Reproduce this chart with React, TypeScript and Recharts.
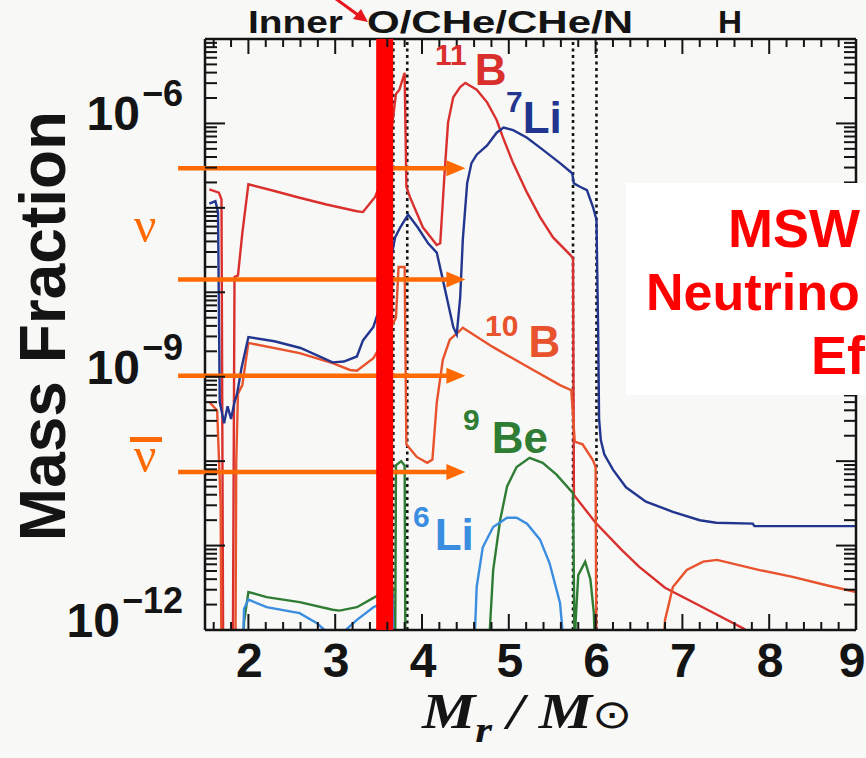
import React from 'react';
import { LineChart, Line, XAxis, YAxis, ReferenceLine } from 'recharts';

// mass coordinate M_r/M_sun vs log10(mass fraction)
const B11: [number, number][] = [
  [1.55, -6.78], [1.66, -6.82], [1.69, -6.9], [1.71, -12.5], [1.82, -12.5], [1.84, -7.82], [1.88, -7.8],
  [1.93, -7.3], [2.0, -6.72], [2.3, -6.8], [2.59, -6.88], [2.9, -6.96], [3.25, -7.04], [3.32, -7.05],
  [3.46, -6.87], [3.6, -6.5], [3.7, -5.65], [3.74, -5.6], [3.8, -5.4], [3.82, -6.75], [3.86, -6.87],
  [4.01, -7.23], [4.17, -7.44], [4.21, -7.42], [4.26, -6.59], [4.3, -5.99], [4.36, -5.69], [4.44, -5.57],
  [4.5, -5.52], [4.63, -5.6], [4.75, -5.75], [4.86, -5.96], [4.93, -6.16], [5.05, -6.47], [5.21, -6.82],
  [5.36, -7.11], [5.51, -7.35], [5.71, -7.56], [5.74, -7.6], [5.75, -10.4], [6.0, -10.73], [6.3, -11.05],
  [6.5, -11.25], [6.8, -11.5], [7.1, -11.66], [7.4, -11.82], [7.7, -11.98], [8.0, -12.2],
];

const B10: [number, number][] = [
  [1.55, -9.3], [1.64, -9.4], [1.68, -10.5], [1.69, -12.5], [1.85, -12.5], [1.86, -10.0], [1.88, -9.2],
  [1.93, -9.1], [2.0, -8.6], [2.59, -8.72], [2.97, -8.84], [3.17, -8.92], [3.25, -8.93], [3.44, -8.78],
  [3.6, -8.5], [3.7, -8.3], [3.73, -7.7], [3.8, -7.7], [3.82, -9.8], [3.94, -9.95], [4.06, -10.02],
  [4.12, -9.98], [4.17, -9.31], [4.24, -8.8], [4.32, -8.56], [4.44, -8.45], [4.47, -8.42], [4.82, -8.65],
  [5.21, -8.88], [5.59, -9.1], [5.72, -9.16], [5.76, -9.77], [5.85, -9.8], [5.97, -9.99], [6.0, -10.07],
  [6.01, -12.5], [6.76, -12.5], [6.8, -11.88], [6.89, -11.49], [7.05, -11.29], [7.24, -11.19],
  [7.4, -11.17], [7.89, -11.29], [8.27, -11.37], [8.66, -11.47], [9.0, -11.55],
];

const Li7: [number, number][] = [
  [1.55, -6.95], [1.62, -6.92], [1.65, -7.05], [1.67, -9.3], [1.72, -9.55], [1.76, -9.35], [1.8, -9.5],
  [1.84, -9.3], [1.87, -9.2], [1.92, -8.9], [2.0, -8.53], [2.3, -8.58], [2.6, -8.66], [2.97, -8.83],
  [3.1, -8.82], [3.25, -8.76], [3.32, -8.57], [3.44, -8.41], [3.57, -8.0], [3.69, -7.35], [3.75, -7.23],
  [3.84, -7.08], [3.95, -7.23], [4.07, -7.42], [4.17, -7.53], [4.24, -7.85], [4.3, -8.13], [4.36, -8.41],
  [4.4, -8.5], [4.44, -8.06], [4.47, -7.38], [4.52, -6.71], [4.57, -6.47], [4.63, -6.37], [4.75, -6.26],
  [4.86, -6.11], [4.94, -6.05], [5.05, -6.08], [5.21, -6.17], [5.39, -6.31], [5.59, -6.47], [5.73, -6.59],
  [5.75, -6.71], [5.82, -6.75], [5.9, -6.79], [5.97, -6.99], [6.01, -7.14], [6.03, -8.5], [6.04, -9.5],
  [6.06, -9.75], [6.1, -9.92], [6.2, -10.1], [6.35, -10.31], [6.58, -10.48], [6.89, -10.6], [7.2, -10.7],
  [7.39, -10.73], [7.81, -10.74], [7.83, -10.77], [9.0, -10.77],
];

const Be9: [number, number][] = [
  [1.93, -12.5], [1.95, -11.9], [2.0, -11.55], [2.21, -11.61], [2.59, -11.67], [2.97, -11.76],
  [3.05, -11.77], [3.25, -11.73], [3.44, -11.62], [3.55, -11.55], [3.66, -11.5], [3.68, -12.5],
  [3.69, -12.5], [3.7, -10.05], [3.76, -10.0], [3.8, -10.05], [3.81, -12.5], [4.77, -12.5], [4.78, -12.02],
  [4.82, -11.29], [4.9, -10.7], [4.98, -10.3], [5.09, -10.07], [5.24, -9.96], [5.39, -10.02],
  [5.55, -10.16], [5.74, -10.38], [5.76, -12.5], [5.77, -11.9], [5.8, -11.35], [5.88, -11.19],
  [5.94, -11.4], [5.98, -11.8], [6.0, -12.5],
];

const Li6: [number, number][] = [
  [1.93, -12.5], [1.95, -11.75], [2.0, -11.64], [2.21, -11.73], [2.59, -11.8], [2.79, -11.92],
  [2.9, -12.02], [3.0, -12.1], [3.1, -12.02], [3.25, -11.88], [3.44, -11.73], [3.6, -11.65],
  [3.66, -11.6], [3.68, -12.5], [4.6, -12.5], [4.61, -12.02], [4.63, -11.49], [4.7, -11.02],
  [4.82, -10.78], [4.98, -10.67], [5.09, -10.67], [5.21, -10.74], [5.36, -10.93], [5.47, -11.21],
  [5.59, -11.68], [5.62, -12.02], [5.64, -12.5],
];

const zoneBounds = [3.67, 3.83, 5.74, 6.01];
const massCut = 3.57;
const arrowLevels = [-6.53, -7.85, -8.99, -10.13];
const arrowFrom = 1.19;
const arrowTo = 4.5;

const xMajor = [2, 3, 4, 5, 6, 7, 8, 9];
const xTicks = Array.from({ length: 38 }, (_, i) => Math.round((1.6 + i * 0.2) * 10) / 10);
const yLabels = [-6, -9, -12];
const yTicks: number[] = [];
for (let n = -12; n < -5; n++) for (let k = 1; k <= 9; k++) yTicks.push(n + Math.log10(k));
yTicks.push(-5);

const pts = (a: [number, number][]) => a.map(([x, y]) => ({ x, y }));

const SANS = '"Liberation Sans", Arial, Helvetica, sans-serif';
const SERIF = '"Liberation Serif", "Times New Roman", serif';
const INK = '#141414';
const ORANGE = '#ff6a00';
const BG = '#f8f8f6';

const isMajorX = (v: number) => xMajor.some((m) => Math.abs(m - v) < 1e-6);
const isDecade = (v: number) => Math.abs(v - Math.round(v)) < 1e-6;

const BottomTick = (p: any) => {
  const { x, y, payload } = p;
  const major = isMajorX(payload.value);
  // the last label sits against the window edge
  const lx = payload.value === 9 ? x - 4 : x + 1;
  return (
    <g>
      <line x1={x} y1={y} x2={x} y2={y - (major ? 16 : 8)} stroke={INK} strokeWidth={2} />
      {major && (
        <text x={lx} y={y + 47} textAnchor="middle" fontFamily={SANS} fontWeight="bold" fontSize={48} fill={INK}>
          {payload.value}
        </text>
      )}
    </g>
  );
};

const TopTick = (p: any) => {
  const { x, y, payload } = p;
  const major = isMajorX(payload.value);
  return <line x1={x} y1={y} x2={x} y2={y + (major ? 15 : 8)} stroke={INK} strokeWidth={2} />;
};

const LeftTick = (p: any) => {
  const { x, y, payload } = p;
  const v = payload.value;
  const dec = isDecade(v);
  const lab = dec && yLabels.includes(Math.round(v));
  return (
    <g>
      <line x1={x} y1={y} x2={x + (dec ? 20 : 12)} y2={y} stroke={INK} strokeWidth={2} />
      {lab && (
        <text x={x - 22} y={y + 7} textAnchor="end" fontFamily={SANS} fontWeight="bold" fill={INK}>
          <tspan fontSize={48}>10</tspan>
          <tspan fontSize={36} dx={2} dy={-24}>{'\u2212' + Math.abs(Math.round(v))}</tspan>
        </text>
      )}
    </g>
  );
};

const RightTick = (p: any) => {
  const { x, y, payload } = p;
  const dec = isDecade(payload.value);
  return <line x1={x} y1={y} x2={x - (dec ? 20 : 12)} y2={y} stroke={INK} strokeWidth={2} />;
};

const ArrowShape = (p: any) => {
  const { x1, y1, x2 } = p;
  return (
    <g>
      <line x1={x1} y1={y1} x2={x2 - 14} y2={y1} stroke={ORANGE} strokeWidth={4.5} />
      <polygon points={`${x2},${y1} ${x2 - 19},${y1 - 8} ${x2 - 19},${y1 + 8}`} fill={ORANGE} />
    </g>
  );
};

const series = [
  { name: '11B', data: B11, color: '#d9302e' },
  { name: '10B', data: B10, color: '#e8522c' },
  { name: '7Li', data: Li7, color: '#22368f' },
  { name: '9Be', data: Be9, color: '#2f7d35' },
  { name: '6Li', data: Li6, color: '#3a8ddf' },
];

export default function App() {
  const axisLine = { stroke: INK, strokeWidth: 2.5 };
  return (
    <div style={{ position: 'absolute', left: 0, top: 0, width: 866, height: 758, background: BG, overflow: 'hidden' }}>
      <LineChart width={866} height={758} margin={{ top: 38, right: 9, bottom: 127, left: 204 }}>
        <XAxis xAxisId="b" type="number" dataKey="x" domain={[1.5, 9]} ticks={xTicks} interval={0}
          allowDataOverflow height={1} tickSize={0} tickMargin={0} tickLine={false} axisLine={axisLine}
          tick={<BottomTick />} />
        <XAxis xAxisId="t" orientation="top" type="number" dataKey="x" domain={[1.5, 9]} ticks={xTicks}
          interval={0} allowDataOverflow height={1} tickSize={0} tickMargin={0} tickLine={false}
          axisLine={axisLine} tick={<TopTick />} />
        <YAxis yAxisId="l" type="number" domain={[-12, -5]} ticks={yTicks} interval={0} allowDataOverflow
          width={1} tickSize={0} tickMargin={0} tickLine={false} axisLine={axisLine} tick={<LeftTick />} />
        <YAxis yAxisId="r" orientation="right" type="number" domain={[-12, -5]} ticks={yTicks} interval={0}
          allowDataOverflow width={1} tickSize={0} tickMargin={0} tickLine={false} axisLine={axisLine}
          tick={<RightTick />} />

        {zoneBounds.map((b) => (
          <ReferenceLine key={b} xAxisId="b" yAxisId="l" x={b} stroke={INK} strokeWidth={2.6} strokeDasharray="3 3.5" />
        ))}

        {series.map((s) => (
          <Line key={s.name} xAxisId="b" yAxisId="l" data={pts(s.data)} dataKey="y" type="linear"
            stroke={s.color} strokeWidth={2.4} dot={false} isAnimationActive={false} />
        ))}

        {arrowLevels.map((lv) => (
          <ReferenceLine key={lv} xAxisId="b" yAxisId="l" ifOverflow="visible" zIndex={1800}
            segment={[{ x: arrowFrom, y: lv }, { x: arrowTo, y: lv }]} shape={ArrowShape} />
        ))}

        <ReferenceLine xAxisId="b" yAxisId="l" x={massCut} stroke="#ff0000" strokeWidth={17} zIndex={1900} />
      </LineChart>

      <svg width={866} height={758} style={{ position: 'absolute', left: 0, top: 0, pointerEvents: 'none' }}>
        {/* zone names along the top */}
        <text x={248} y={33} fontFamily={SANS} fontWeight="bold" fontSize={31} fill={INK} textLength={95} lengthAdjust="spacingAndGlyphs">Inner</text>
        <text x={367} y={33} fontFamily={SANS} fontWeight="bold" fontSize={31} fill={INK} textLength={266} lengthAdjust="spacingAndGlyphs">O/CHe/CHe/N</text>
        <text x={718} y={33} fontFamily={SANS} fontWeight="bold" fontSize={31} fill={INK} textLength={24} lengthAdjust="spacingAndGlyphs">H</text>
        <line x1={332} y1={-4} x2={358} y2={15} stroke="#e8141e" strokeWidth={3} />
        <polygon points="368,22 353,19 361,9" fill="#e8141e" />

        {/* neutrino symbols */}
        <text x={145} y={242} textAnchor="middle" fontFamily={SERIF} fontSize={50} fill={ORANGE}>ν</text>
        <rect x={130} y={437} width={32} height={5} fill={ORANGE} />
        <text x={145} y={472} textAnchor="middle" fontFamily={SERIF} fontSize={50} fill={ORANGE}>ν</text>

        {/* isotope labels */}
        <text x={435} y={85} fontFamily={SANS} fontWeight="bold" fill="#d9302e">
          <tspan fontSize={30} dy={-20}>11</tspan><tspan fontSize={44} dy={20} dx={8}>B</tspan>
        </text>
        <text x={506} y={133} fontFamily={SANS} fontWeight="bold" fill="#22368f">
          <tspan fontSize={30} dy={-21}>7</tspan><tspan fontSize={44} dy={21}>Li</tspan>
        </text>
        <text x={485} y={357} fontFamily={SANS} fontWeight="bold" fill="#e8522c">
          <tspan fontSize={30} dy={-21}>10</tspan><tspan fontSize={44} dy={21} dx={10}>B</tspan>
        </text>
        <text x={463} y={453} fontFamily={SANS} fontWeight="bold" fill="#2f7d35">
          <tspan fontSize={30} dy={-23}>9</tspan><tspan fontSize={44} dy={23} dx={12}>Be</tspan>
        </text>
        <text x={413} y={550} fontFamily={SANS} fontWeight="bold" fill="#3a8ddf">
          <tspan fontSize={30} dy={-23}>6</tspan><tspan fontSize={44} dy={23} dx={5}>Li</tspan>
        </text>

        {/* axis titles */}
        <text transform="translate(65,326) rotate(-90)" textAnchor="middle" fontFamily={SANS} fontWeight="bold" fontSize={64} fill={INK}>
          Mass Fraction
        </text>
        <text x={422} y={728} fontFamily={SERIF} fontStyle="italic" fontWeight="bold" fontSize={50} fill={INK}
          textLength={211} lengthAdjust="spacingAndGlyphs">
          M<tspan fontSize={36} dy={14}>r</tspan><tspan dy={-14}> / M</tspan><tspan fontSize={40} fontStyle="normal" fontWeight="normal">⊙</tspan>
        </text>

        {/* MSW note */}
        <rect x={626} y={183} width={240} height={212} fill="#ffffff" />
        <text x={728} y={247} fontFamily={SANS} fontWeight="bold" fontSize={54} fill="#ff0000">MSW</text>
        <text x={646} y={310} fontFamily={SANS} fontWeight="bold" fontSize={52} fill="#ff0000">Neutrino</text>
        <text x={811} y={374} fontFamily={SANS} fontWeight="bold" fontSize={54} fill="#ff0000">Ef</text>
      </svg>
    </div>
  );
}
